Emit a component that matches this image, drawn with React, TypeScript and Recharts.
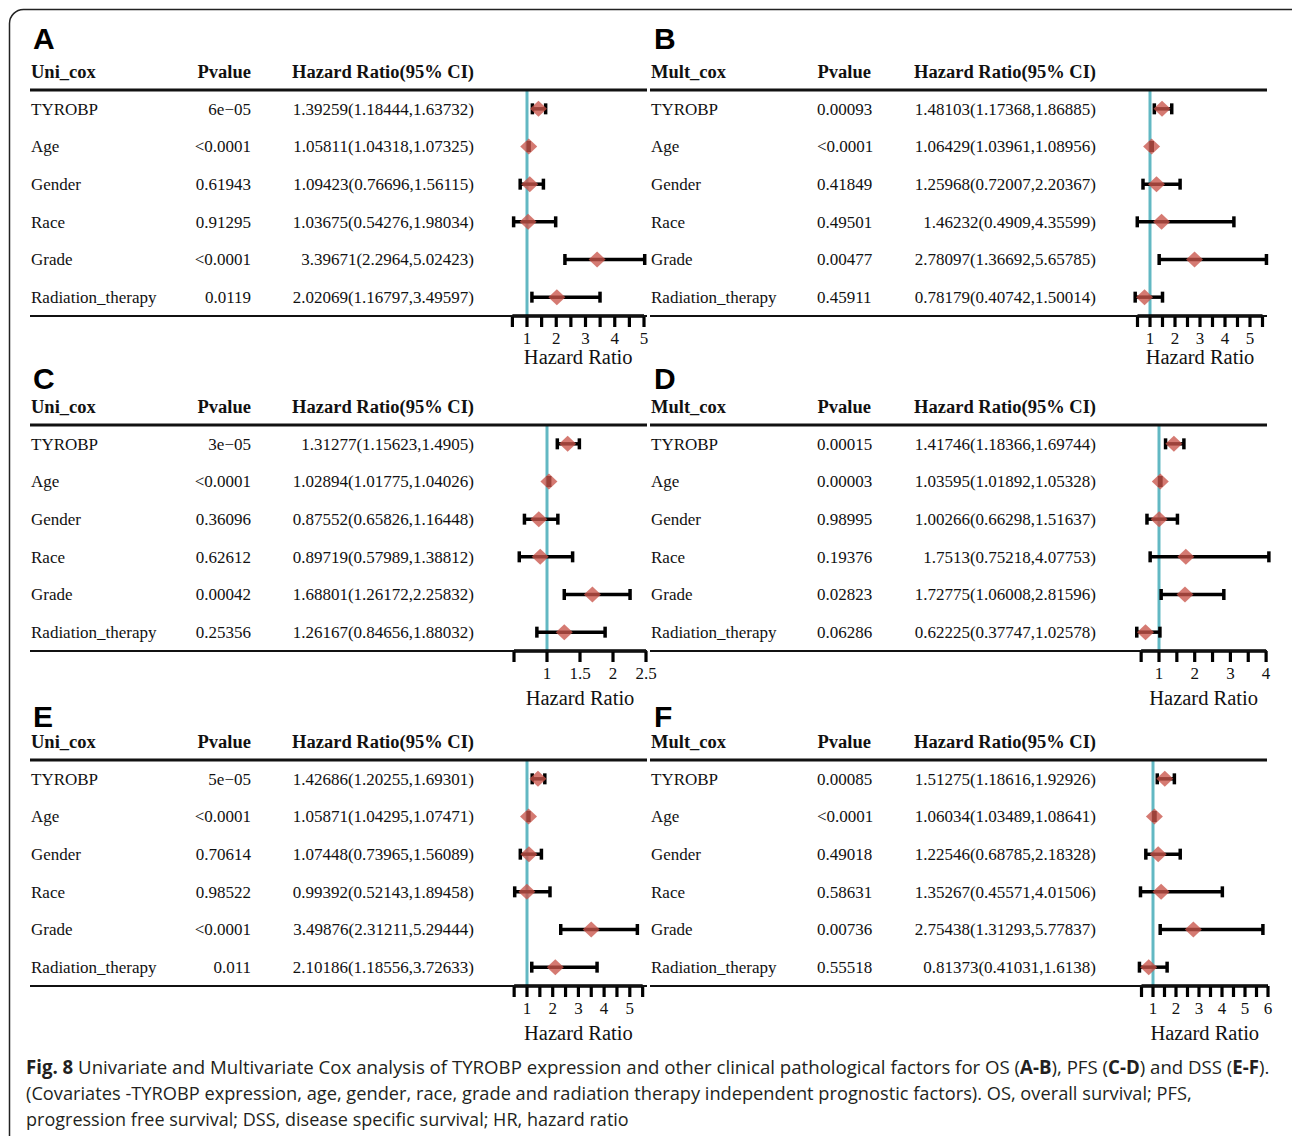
import React, { useLayoutEffect, useRef, useState } from 'react';
import { ComposedChart, Scatter, ErrorBar, XAxis, YAxis, ReferenceLine } from 'recharts';

const covariates = ['TYROBP', 'Age', 'Gender', 'Race', 'Grade', 'Radiation_therapy'];

// A: OS, univariate
const osUniP = ['6e\u221205', '<0.0001', '0.61943', '0.91295', '<0.0001', '0.0119'];
const osUniHR = [1.39259, 1.05811, 1.09423, 1.03675, 3.39671, 2.02069];
const osUniLow = [1.18444, 1.04318, 0.76696, 0.54276, 2.2964, 1.16797];
const osUniHigh = [1.63732, 1.07325, 1.56115, 1.98034, 5.02423, 3.49597];

// B: OS, multivariate
const osMultP = ['0.00093', '<0.0001', '0.41849', '0.49501', '0.00477', '0.45911'];
const osMultHR = [1.48103, 1.06429, 1.25968, 1.46232, 2.78097, 0.78179];
const osMultLow = [1.17368, 1.03961, 0.72007, 0.4909, 1.36692, 0.40742];
const osMultHigh = [1.86885, 1.08956, 2.20367, 4.35599, 5.65785, 1.50014];

// C: PFS, univariate
const pfsUniP = ['3e\u221205', '<0.0001', '0.36096', '0.62612', '0.00042', '0.25356'];
const pfsUniHR = [1.31277, 1.02894, 0.87552, 0.89719, 1.68801, 1.26167];
const pfsUniLow = [1.15623, 1.01775, 0.65826, 0.57989, 1.26172, 0.84656];
const pfsUniHigh = [1.4905, 1.04026, 1.16448, 1.38812, 2.25832, 1.88032];

// D: PFS, multivariate
const pfsMultP = ['0.00015', '0.00003', '0.98995', '0.19376', '0.02823', '0.06286'];
const pfsMultHR = [1.41746, 1.03595, 1.00266, 1.7513, 1.72775, 0.62225];
const pfsMultLow = [1.18366, 1.01892, 0.66298, 0.75218, 1.06008, 0.37747];
const pfsMultHigh = [1.69744, 1.05328, 1.51637, 4.07753, 2.81596, 1.02578];

// E: DSS, univariate
const dssUniP = ['5e\u221205', '<0.0001', '0.70614', '0.98522', '<0.0001', '0.011'];
const dssUniHR = [1.42686, 1.05871, 1.07448, 0.99392, 3.49876, 2.10186];
const dssUniLow = [1.20255, 1.04295, 0.73965, 0.52143, 2.31211, 1.18556];
const dssUniHigh = [1.69301, 1.07471, 1.56089, 1.89458, 5.29444, 3.72633];

// F: DSS, multivariate
const dssMultP = ['0.00085', '<0.0001', '0.49018', '0.58631', '0.00736', '0.55518'];
const dssMultHR = [1.51275, 1.06034, 1.22546, 1.35267, 2.75438, 0.81373];
const dssMultLow = [1.18616, 1.03489, 0.68785, 0.45571, 1.31293, 0.41031];
const dssMultHigh = [1.92926, 1.08641, 2.18328, 4.01506, 5.77837, 1.6138];

// axis ticks (every 0.5) and the ticks that carry a label
const ticksA = [0.5, 1, 1.5, 2, 2.5, 3, 3.5, 4, 4.5, 5];
const labelsA = [1, 2, 3, 4, 5];
const ticksB = [0.5, 1, 1.5, 2, 2.5, 3, 3.5, 4, 4.5, 5, 5.5];
const labelsB = [1, 2, 3, 4, 5];
const ticksC = [0.5, 1, 1.5, 2, 2.5];
const labelsC = [1, 1.5, 2, 2.5];
const ticksD = [0.5, 1, 1.5, 2, 2.5, 3, 3.5, 4];
const labelsD = [1, 2, 3, 4];
const ticksE = [0.5, 1, 1.5, 2, 2.5, 3, 3.5, 4, 4.5, 5, 5.5];
const labelsE = [1, 2, 3, 4, 5];
const ticksF = [0.5, 1, 1.5, 2, 2.5, 3, 3.5, 4, 4.5, 5, 5.5, 6];
const labelsF = [1, 2, 3, 4, 5, 6];

const SERIF = '"Liberation Serif", "Times New Roman", serif';
const SANS = '"Liberation Sans", Arial, sans-serif';
const TEAL = '#62b8c3';
const DIAMOND = '#c9544a';

const W = 700;
const H = 384;
const PLOT_TOP = 90;
const PLOT_BOTTOM = 316;
const D0 = 0.3;

// layout per panel row: letter baseline, gap below the axis for "Hazard Ratio"
const letterBase = [49, 54, 57];
const hrLabelGap = [33, 39, 39];

const panels = [
  { letter: 'A', model: 'Uni_cox', p: osUniP, hr: osUniHR, lo: osUniLow, hi: osUniHigh, ticks: ticksA, labels: labelsA, col: 0, row: 0, one: 527, ppu: 29.25 },
  { letter: 'B', model: 'Mult_cox', p: osMultP, hr: osMultHR, lo: osMultLow, hi: osMultHigh, ticks: ticksB, labels: labelsB, col: 1, row: 0, one: 530, ppu: 25 },
  { letter: 'C', model: 'Uni_cox', p: pfsUniP, hr: pfsUniHR, lo: pfsUniLow, hi: pfsUniHigh, ticks: ticksC, labels: labelsC, col: 0, row: 1, one: 547, ppu: 66 },
  { letter: 'D', model: 'Mult_cox', p: pfsMultP, hr: pfsMultHR, lo: pfsMultLow, hi: pfsMultHigh, ticks: ticksD, labels: labelsD, col: 1, row: 1, one: 539, ppu: 35.7 },
  { letter: 'E', model: 'Uni_cox', p: dssUniP, hr: dssUniHR, lo: dssUniLow, hi: dssUniHigh, ticks: ticksE, labels: labelsE, col: 0, row: 2, one: 527, ppu: 25.7 },
  { letter: 'F', model: 'Mult_cox', p: dssMultP, hr: dssMultHR, lo: dssMultLow, hi: dssMultHigh, ticks: ticksF, labels: labelsF, col: 1, row: 2, one: 533, ppu: 23 },
];

function Diamond(props: any) {
  const { cx, cy } = props;
  if (cx == null || cy == null) return null;
  const w = 8.5;
  const h = 8;
  return (
    <polygon
      points={`${cx - w},${cy} ${cx},${cy - h} ${cx + w},${cy} ${cx},${cy + h}`}
      fill={DIAMOND}
      fillOpacity={0.78}
    />
  );
}

function Panel({ cfg }: { cfg: any }) {
  const data = covariates.map((name, i) => ({
    row: i,
    name,
    p: cfg.p[i],
    hr: cfg.hr[i],
    lo: cfg.lo[i],
    hi: cfg.hi[i],
    err: [cfg.hr[i] - cfg.lo[i], cfg.hi[i] - cfg.hr[i]],
  }));
  const last = cfg.ticks[cfg.ticks.length - 1];
  const d1 = last + 0.5;
  const plotLeft = cfg.one - (1 - D0) * cfg.ppu;
  const plotRight = cfg.one + (d1 - 1) * cfg.ppu;
  const isUni = cfg.model === 'Uni_cox';
  const hrRight = isUni ? 474 : 476;

  const rowTick = (props: any) => {
    const { y, payload } = props;
    const d = data[payload.value];
    if (!d) return <g />;
    return (
      <g fontFamily={SERIF} fontSize={17} fill="#111">
        <text x={31} y={y} dy="0.35em">{d.name}</text>
        <text x={isUni ? 251 : 197} y={y} dy="0.35em" textAnchor={isUni ? 'end' : 'start'}>{d.p}</text>
        <text x={hrRight} y={y} dy="0.35em" textAnchor="end">{`${d.hr}(${d.lo},${d.hi})`}</text>
      </g>
    );
  };

  const axisTick = (props: any) => {
    const { x, y, payload } = props;
    const v = payload.value;
    return (
      <g>
        <line x1={x} x2={x} y1={y} y2={y + 11} stroke="#000" strokeWidth={3.2} />
        {cfg.labels.includes(v) && (
          <text x={x} y={y + 28} textAnchor="middle" fontFamily={SERIF} fontSize={17} fill="#111">
            {String(v)}
          </text>
        )}
      </g>
    );
  };

  return (
    <div style={{ position: 'absolute', left: cfg.col * 620, top: cfg.row * 335, width: W, height: H }}>
      <ComposedChart
        width={W}
        height={H}
        data={data}
        margin={{ top: PLOT_TOP, right: W - plotRight, bottom: 0, left: 0 }}
      >
        <XAxis
          type="number"
          dataKey="hr"
          domain={[D0, d1]}
          ticks={cfg.ticks}
          interval={0}
          tickSize={0}
          tickMargin={0}
          axisLine={false}
          tickLine={false}
          tick={axisTick}
          height={H - PLOT_BOTTOM}
        />
        <YAxis
          type="number"
          dataKey="row"
          domain={[-0.5, 5.5]}
          reversed
          ticks={[0, 1, 2, 3, 4, 5]}
          interval={0}
          tickSize={0}
          tickMargin={0}
          axisLine={false}
          tickLine={false}
          tick={rowTick}
          width={plotLeft}
        />
        <ReferenceLine x={1} stroke={TEAL} strokeWidth={3} />
        <ReferenceLine
          segment={[{ x: cfg.ticks[0], y: 5.5 }, { x: last, y: 5.5 }]}
          stroke="#000"
          strokeWidth={3.5}
          ifOverflow="visible"
          label={{
            value: 'Hazard Ratio',
            position: 'bottom',
            offset: hrLabelGap[cfg.row],
            fill: '#111',
            fontSize: 20.5,
            fontFamily: SERIF,
          }}
        />
        <Scatter dataKey="hr" isAnimationActive={false} shape={Diamond}>
          <ErrorBar dataKey="err" direction="x" width={5.5} strokeWidth={3.5} stroke="#000" />
        </Scatter>
      </ComposedChart>
      <svg
        width={W}
        height={H}
        style={{ position: 'absolute', left: 0, top: 0, pointerEvents: 'none' }}
      >
        <text x={cfg.col ? 34 : 33} y={letterBase[cfg.row]} fontFamily={SANS} fontWeight="bold" fontSize={30} fill="#000">
          {cfg.letter}
        </text>
        <g fontFamily={SERIF} fontWeight="bold" fontSize={18.5} fill="#111">
          <text x={31} y={78}>{cfg.model}</text>
          <text x={251} y={78} textAnchor="end">Pvalue</text>
          <text x={hrRight} y={78} textAnchor="end">Hazard Ratio(95% CI)</text>
        </g>
        <line x1={30} x2={647} y1={PLOT_TOP} y2={PLOT_TOP} stroke="#111" strokeWidth={3} />
        <line x1={30} x2={647} y1={PLOT_BOTTOM} y2={PLOT_BOTTOM} stroke="#111" strokeWidth={2} />
      </svg>
    </div>
  );
}

// caption lines: target right edges
const captionRight = [1270, 1193, 629];
const captionBase = [1074, 1100, 1126];

function Caption() {
  const refs = [useRef<SVGTextElement>(null), useRef<SVGTextElement>(null), useRef<SVGTextElement>(null)];
  const [sx, setSx] = useState([1, 1, 1]);
  useLayoutEffect(() => {
    const next = refs.map((r, i) => {
      const el = r.current;
      if (!el) return 1;
      const len = el.getComputedTextLength();
      return len > 0 ? (captionRight[i] - 26) / len : 1;
    });
    setSx(next);
  }, []);
  return (
    <g fontFamily={'"Open Sans", "Noto Sans", sans-serif'} fontSize={19} fill="#231f20">
      <g transform={`translate(26, ${captionBase[0]}) scale(${sx[0]}, 1)`}>
        <text ref={refs[0]} x={0} y={0}>
          <tspan fontWeight="bold">Fig. 8</tspan>
          {' Univariate and Multivariate Cox analysis of TYROBP expression and other clinical pathological factors for OS ('}
          <tspan fontWeight="bold">A-B</tspan>
          {'), PFS ('}
          <tspan fontWeight="bold">C-D</tspan>
          {') and DSS ('}
          <tspan fontWeight="bold">E-F</tspan>
          {').'}
        </text>
      </g>
      <g transform={`translate(26, ${captionBase[1]}) scale(${sx[1]}, 1)`}>
        <text ref={refs[1]} x={0} y={0}>
          (Covariates -TYROBP expression, age, gender, race, grade and radiation therapy independent prognostic factors). OS, overall survival; PFS,
        </text>
      </g>
      <g transform={`translate(26, ${captionBase[2]}) scale(${sx[2]}, 1)`}>
        <text ref={refs[2]} x={0} y={0}>
          progression free survival; DSS, disease specific survival; HR, hazard ratio
        </text>
      </g>
    </g>
  );
}

export default function App() {
  return (
    <div
      style={{
        position: 'absolute',
        left: 0,
        top: 0,
        width: 1292,
        height: 1136,
        overflow: 'hidden',
        background: '#fff',
      }}
    >
      {panels.map((cfg) => (
        <Panel key={cfg.letter} cfg={cfg} />
      ))}
      <svg width={1292} height={1136} style={{ position: 'absolute', left: 0, top: 0, pointerEvents: 'none' }}>
        <rect x={9.5} y={9.5} width={1300} height={1160} rx={14} fill="none" stroke="#222" strokeWidth={1.5} />
        <Caption />
      </svg>
    </div>
  );
}
